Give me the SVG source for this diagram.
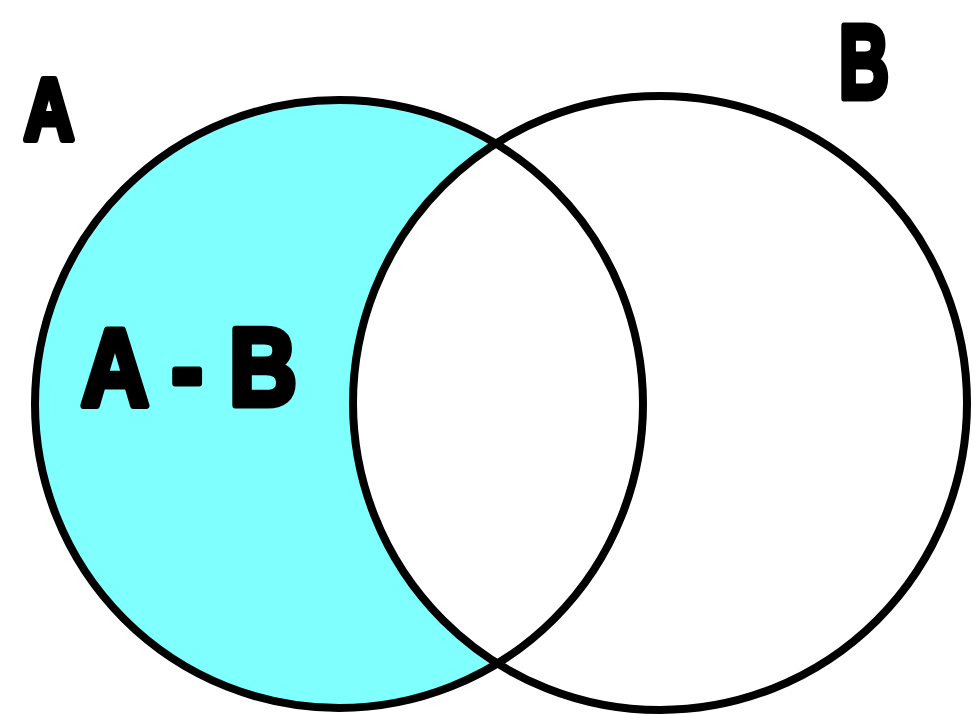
<svg xmlns="http://www.w3.org/2000/svg" width="974" height="714" viewBox="0 0 974 714">
<style>
.ring{fill:none;stroke:#000;stroke-width:8}
.lbl{font-family:"Liberation Sans",Arial,sans-serif;font-weight:bold;fill:#000;stroke:#000;stroke-width:7;stroke-linejoin:round;text-anchor:middle}
</style>
<rect width="974" height="714" fill="#fff"/>
<g id="region-a-minus-b">
<path d="M496.6,144 A304,304 0 1,0 496.6,664 A307,307 0 0,1 496.6,144 Z" fill="#80ffff"/>
</g>
<g id="set-a">
<circle class="ring" cx="339" cy="404" r="304"/>
<text class="lbl" x="49" y="139" font-size="88" textLength="50" lengthAdjust="spacingAndGlyphs">A</text>
</g>
<g id="set-b">
<circle class="ring" cx="660" cy="403" r="307"/>
<text class="lbl" x="864" y="98" font-size="104" textLength="50" lengthAdjust="spacingAndGlyphs">B</text>
</g>
<g id="label-a-minus-b">
<text class="lbl" x="189" y="405" font-size="110" textLength="216" lengthAdjust="spacingAndGlyphs">A - B</text>
</g>
</svg>
